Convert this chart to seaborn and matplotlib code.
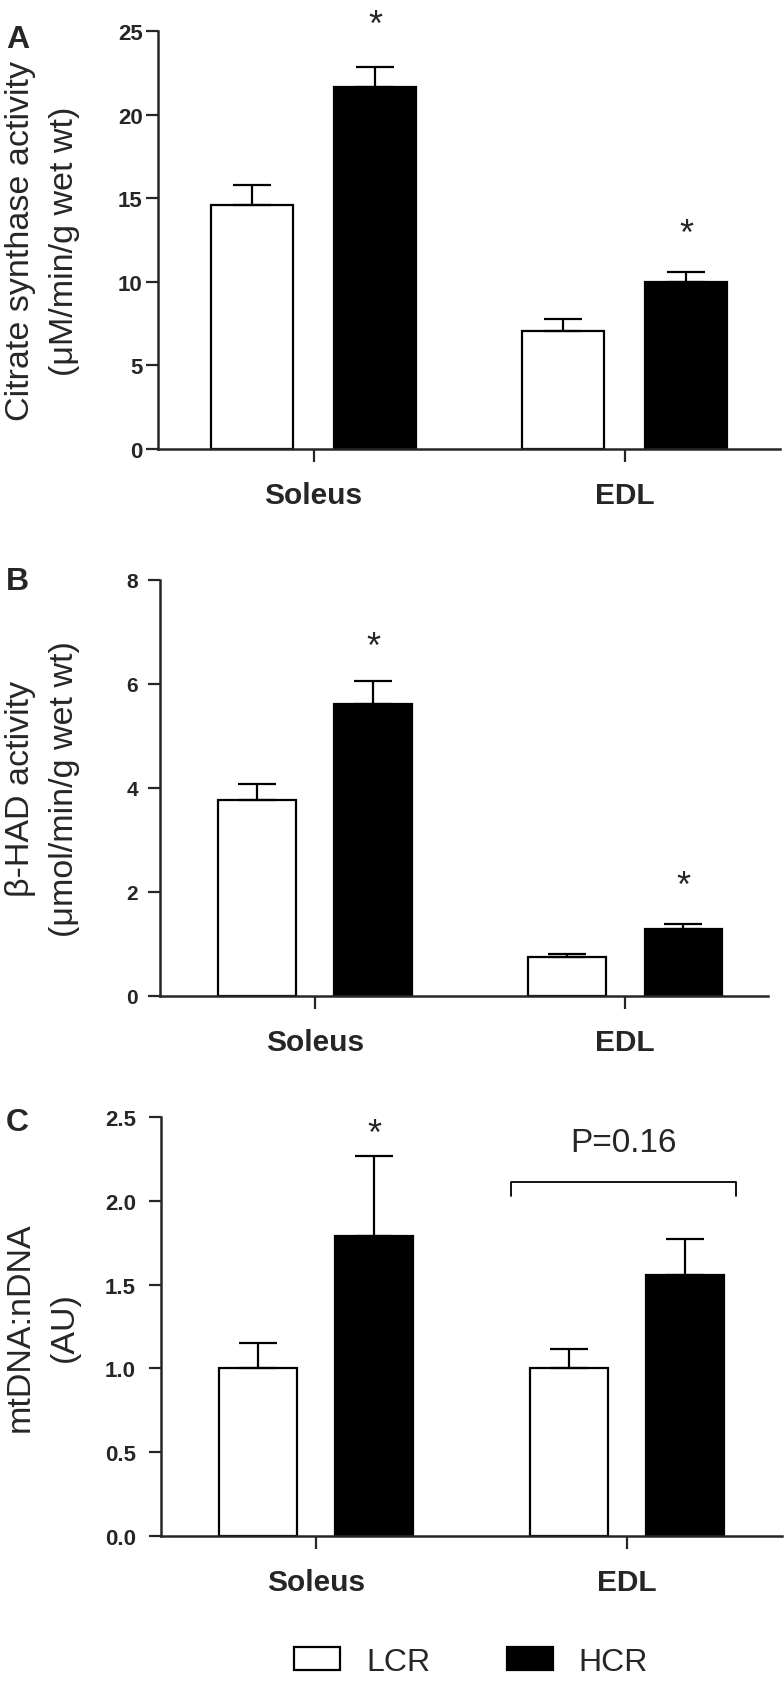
import numpy as np
import pandas as pd
import matplotlib
matplotlib.use('Agg')
import matplotlib.pyplot as plt
from matplotlib.patches import Patch
import seaborn as sns

sns.set_style('ticks')
plt.rcParams['font.family'] = ['Liberation Sans', 'DejaVu Sans']

# data (mean and SEM)
muscles = ['Soleus', 'EDL']
strains = ['LCR', 'HCR']

cs_lcr = [14.6, 7.05]
cs_hcr = [21.65, 10.0]
cs_lcr_sem = [1.2, 0.75]
cs_hcr_sem = [1.2, 0.6]
cs_stars = [None, 26.0, None, 13.45]   # LCR-Sol, HCR-Sol, LCR-EDL, HCR-EDL
cs_ticks = [0, 5, 10, 15, 20, 25]

had_lcr = [3.76, 0.75]
had_hcr = [5.62, 1.29]
had_lcr_sem = [0.31, 0.06]
had_hcr_sem = [0.43, 0.10]
had_stars = [None, 6.91, None, 2.31]
had_ticks = [0, 2, 4, 6, 8]

mt_lcr = [1.0, 1.0]
mt_hcr = [1.787, 1.556]
mt_lcr_sem = [0.15, 0.115]
mt_hcr_sem = [0.48, 0.214]
mt_stars = [None, 2.46, None, None]
mt_ticks = [0.0, 0.5, 1.0, 1.5, 2.0, 2.5]

W, H = 784, 1683
palette = {'LCR': 'white', 'HCR': 'black'}
STAR_SIZE = 26


def px_box(left, right, top, bottom):
    return [left / W, 1 - bottom / H, (right - left) / W, (bottom - top) / H]


def draw_panel(ax, lcr, hcr, lcr_sem, hcr_sem, stars, ticks, tick_fmt,
               ylabel, width, gap, xmax, tick_family, tick_size, tick_pad):
    df = pd.DataFrame({
        'muscle': muscles * 2,
        'strain': ['LCR'] * 2 + ['HCR'] * 2,
        'value': lcr + hcr,
    })
    sns.barplot(data=df, x='muscle', y='value', hue='strain', order=muscles,
                hue_order=strains, palette=palette, width=width, gap=gap,
                edgecolor='black', linewidth=1.6, errorbar=None, legend=False,
                ax=ax)

    sems = {'LCR': lcr_sem, 'HCR': hcr_sem}
    centers = []
    for strain, cont in zip(strains, ax.containers):
        for bar, s in zip(cont, sems[strain]):
            cx = bar.get_x() + bar.get_width() / 2
            top = bar.get_height()
            centers.append(cx)
            ax.errorbar(cx, top, yerr=[[0], [s]], fmt='none', ecolor='black',
                        elinewidth=1.6, capsize=14, capthick=1.6, zorder=1)

    # stars ordered LCR-Sol, HCR-Sol, LCR-EDL, HCR-EDL
    order = [centers[0], centers[2], centers[1], centers[3]]
    for cx, sy in zip(order, stars):
        if sy is not None:
            # asterisk glyph sits high in the em box, so anchor on the baseline
            ax.annotate('*', xy=(cx, sy), xytext=(0, -0.56 * STAR_SIZE),
                        textcoords='offset points', ha='center', va='baseline',
                        fontsize=STAR_SIZE, annotation_clip=False)

    ax.set_xlim(-0.5, xmax)
    ax.set_ylim(ticks[0], ticks[-1])
    ax.set_yticks(ticks)
    ax.set_yticklabels([tick_fmt.format(t) for t in ticks], fontweight='bold',
                       fontsize=tick_size, family=tick_family)
    ax.set_xticks(range(len(muscles)))
    ax.set_xticklabels(muscles, fontweight='bold', fontsize=21.5)
    ax.set_xlabel('')
    ax.set_ylabel(ylabel, fontsize=24.5, linespacing=1.55)
    ax.tick_params(axis='y', length=9, width=1.6, pad=tick_pad)
    ax.tick_params(axis='x', length=9, width=1.6, pad=14)
    for side in ['left', 'bottom']:
        ax.spines[side].set_linewidth(1.8)
    sns.despine(ax=ax)


fig = plt.figure(figsize=(W / 100, H / 100), dpi=100)

narrow = ['Liberation Sans Narrow', 'Liberation Sans']

ax_a = fig.add_axes(px_box(158, 780, 32, 450))
draw_panel(ax_a, cs_lcr, cs_hcr, cs_lcr_sem, cs_hcr_sem, cs_stars, cs_ticks,
           '{:d}', 'Citrate synthase activity\n(μM/min/g wet wt)',
           0.79, 0.33, 1.5, ['Liberation Sans'], 16, 2)
ax_a.yaxis.set_label_coords((80 - 158) / (780 - 158), 0.5)

ax_b = fig.add_axes(px_box(160, 768, 581, 997))
draw_panel(ax_b, had_lcr, had_hcr, had_lcr_sem, had_hcr_sem, had_stars,
           had_ticks, '{:d}', 'β-HAD activity\n(μmol/min/g wet wt)',
           0.75, 0.33, 1.46, narrow, 15, 7)
ax_b.yaxis.set_label_coords((80 - 160) / (768 - 160), 0.5)

ax_c = fig.add_axes(px_box(161, 782, 1118, 1537))
draw_panel(ax_c, mt_lcr, mt_hcr, mt_lcr_sem, mt_hcr_sem, mt_stars, mt_ticks,
           '{:.1f}', 'mtDNA:nDNA\n(AU)', 0.75, 0.33, 1.5, narrow, 16, 9)
ax_c.yaxis.set_label_coords((80 - 161) / (782 - 161), 0.5)

# P value bracket over EDL
bx0, bx1, by, bdrop = 0.626, 1.352, 2.11, 2.03
ax_c.plot([bx0, bx0, bx1, bx1], [bdrop, by, by, bdrop], color='black',
          lw=1.3, clip_on=False)
ax_c.text((bx0 + bx1) / 2, 2.35, 'P=0.16', ha='center', va='center',
          fontsize=24)

# panel letters
for letter, top in [('A', 25), ('B', 567), ('C', 1108)]:
    fig.text(6 / W, 1 - top / H, letter, fontsize=23, fontweight='bold',
             ha='left', va='top')

handles = [Patch(facecolor='white', edgecolor='black', linewidth=1.6, label='LCR'),
           Patch(facecolor='black', edgecolor='black', linewidth=1.6, label='HCR')]
fig.legend(handles=handles, loc='center', bbox_to_anchor=(471 / W, 20 / H),
           ncol=2, frameon=False, fontsize=23, handlelength=1.44,
           handleheight=0.72, handletextpad=0.8, columnspacing=2.4)

fig.savefig('out.png', dpi=100)
